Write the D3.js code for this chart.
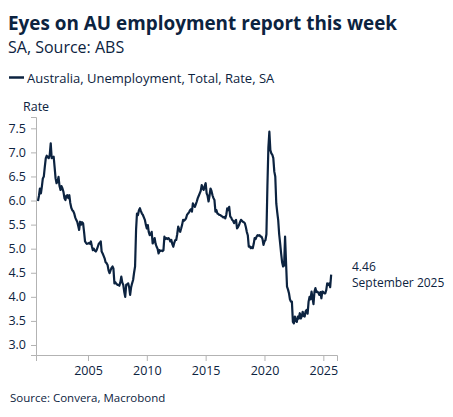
<!DOCTYPE html>
<html lang="en">
<head>
    <meta charset="UTF-8">
    <script src="https://d3js.org/d3.v7.min.js"></script>
    <style>
        body { margin: 0; background: #fff; font-family: "Segoe UI", "Open Sans", sans-serif; }
        .axis path, .axis line { stroke: #b3b3b3; }
        .axis text { fill: #0c2340; font-size: 12.5px; font-family: "Segoe UI", "Open Sans", sans-serif; }
    </style>
</head>
<body>
    <svg id="chart" width="453" height="417"></svg>
    <script>
        // monthly, seasonally adjusted, starting October 2000
        const startMonth = "2000-10";
        const rate2000 = [5.99, 6.10, 6.25];
        const rate2001 = [6.15, 6.30, 6.46, 6.50, 6.70, 6.88, 6.93, 6.90, 6.88, 6.95, 7.19, 6.88];
        const rate2002 = [6.90, 6.91, 6.70, 6.46, 6.36, 6.40, 6.49, 6.30, 6.22, 6.30, 6.25, 6.18];
        const rate2003 = [6.05, 6.01, 6.10, 6.11, 6.05, 6.11, 5.95, 5.85, 5.80, 5.78, 5.73, 5.65];
        const rate2004 = [5.60, 5.56, 5.48, 5.39, 5.56, 5.50, 5.55, 5.53, 5.35, 5.15, 5.12, 5.10];
        const rate2005 = [5.11, 5.12, 5.10, 5.15, 5.05, 4.97, 5.00, 4.96, 4.94, 4.98, 5.04, 5.10];
        const rate2006 = [5.12, 5.15, 4.94, 4.90, 4.85, 4.80, 4.72, 4.70, 4.66, 4.55, 4.49, 4.55];
        const rate2007 = [4.60, 4.63, 4.59, 4.28, 4.30, 4.27, 4.25, 4.25, 4.23, 4.30, 4.42, 4.30];
        const rate2008 = [4.25, 4.10, 4.00, 4.25, 4.26, 4.28, 4.20, 4.04, 4.20, 4.28, 4.35, 4.50];
        const rate2009 = [4.63, 5.39, 5.73, 5.70, 5.80, 5.84, 5.78, 5.73, 5.70, 5.65, 5.60, 5.50];
        const rate2010 = [5.42, 5.49, 5.35, 5.28, 5.30, 5.35, 5.11, 5.15, 5.22, 5.10, 5.04, 5.00];
        const rate2011 = [4.90, 4.97, 4.95, 4.96, 4.95, 4.97, 5.25, 5.20, 5.22, 5.20, 5.22, 5.20];
        const rate2012 = [5.15, 5.18, 5.10, 5.04, 5.12, 5.18, 5.18, 5.30, 5.46, 5.40, 5.35, 5.42];
        const rate2013 = [5.50, 5.60, 5.58, 5.60, 5.63, 5.70, 5.73, 5.75, 5.80, 5.82, 5.77, 5.94];
        const rate2014 = [5.90, 5.87, 5.92, 5.98, 6.05, 6.10, 6.15, 6.20, 6.32, 6.25, 6.22, 6.30];
        const rate2015 = [6.36, 6.15, 6.10, 5.98, 6.10, 6.25, 6.20, 6.11, 6.05, 6.01, 5.77, 5.80];
        const rate2016 = [5.73, 5.72, 5.70, 5.70, 5.68, 5.67, 5.65, 5.66, 5.63, 5.70, 5.84, 5.80];
        const rate2017 = [5.87, 5.67, 5.65, 5.60, 5.58, 5.53, 5.57, 5.60, 5.42, 5.45, 5.49, 5.55];
        const rate2018 = [5.60, 5.58, 5.56, 5.55, 5.53, 5.45, 5.35, 5.28, 5.04, 5.05, 5.01, 5.03];
        const rate2019 = [5.01, 5.10, 5.22, 5.20, 5.25, 5.28, 5.27, 5.28, 5.25, 5.25, 5.20, 5.08];
        const rate2020 = [5.15, 5.18, 5.30, 6.30, 7.10, 7.43, 7.05, 6.98, 6.95, 6.88, 6.60, 6.50];
        const rate2021 = [5.94, 5.75, 5.60, 5.30, 5.11, 4.90, 4.72, 4.63, 4.65, 5.25, 4.70, 4.21];
        const rate2022 = [4.15, 4.07, 3.95, 3.90, 3.90, 3.48, 3.45, 3.59, 3.50, 3.48, 3.59, 3.55];
        const rate2023 = [3.66, 3.55, 3.59, 3.69, 3.60, 3.59, 3.70, 3.73, 3.65, 3.90, 4.00, 3.95];
        const rate2024 = [4.11, 3.97, 3.85, 4.11, 4.18, 4.10, 4.11, 4.08, 4.04, 4.10, 3.97, 4.11];
        const rate2025 = [4.10, 4.07, 4.07, 4.14, 4.28, 4.25, 4.28, 4.20, 4.46];

        const yTicks = [3.0, 3.5, 4.0, 4.5, 5.0, 5.5, 6.0, 6.5, 7.0, 7.5];
        const xTickYears = [2005, 2010, 2015, 2020, 2025];
        const seriesName = "Australia, Unemployment, Total, Rate, SA";
        const lastLabel = ["4.46", "September 2025"];

        const allRates = [].concat(rate2000, rate2001, rate2002, rate2003, rate2004, rate2005,
            rate2006, rate2007, rate2008, rate2009, rate2010, rate2011, rate2012, rate2013,
            rate2014, rate2015, rate2016, rate2017, rate2018, rate2019, rate2020, rate2021,
            rate2022, rate2023, rate2024, rate2025);

        const start = d3.timeParse("%Y-%m")(startMonth);
        const data = allRates.map((v, i) => ({ date: d3.timeMonth.offset(start, i), value: v }));

        const navy = "#0c2340";
        const svg = d3.select("#chart");

        const x = d3.scaleTime()
            .domain([new Date(2000, 7, 1), new Date(2026, 2, 1)])
            .range([36, 337]);

        const y = d3.scaleLinear()
            .domain([2.792, 7.735])
            .range([355, 117]);

        // titles
        svg.append("text")
            .attr("x", 8).attr("y", 30)
            .attr("fill", navy)
            .style("font-size", "18.9px")
            .style("font-weight", "bold")
            .text("Eyes on AU employment report this week");

        svg.append("text")
            .attr("x", 8).attr("y", 53)
            .attr("fill", navy)
            .style("font-size", "16px")
            .text("SA, Source: ABS");

        // legend
        svg.append("line")
            .attr("x1", 9).attr("x2", 24)
            .attr("y1", 77.5).attr("y2", 77.5)
            .attr("stroke", navy)
            .attr("stroke-width", 2.5);

        svg.append("text")
            .attr("x", 27).attr("y", 83)
            .attr("fill", navy)
            .style("font-size", "13px")
            .text(seriesName);

        svg.append("text")
            .attr("x", 23).attr("y", 111)
            .attr("fill", navy)
            .style("font-size", "12.5px")
            .text("Rate");

        // axes
        svg.append("g")
            .attr("class", "axis")
            .attr("transform", "translate(0,355)")
            .call(d3.axisBottom(x)
                .tickValues(xTickYears.map(yr => new Date(yr, 0, 1)))
                .tickFormat(d3.timeFormat("%Y"))
                .tickSizeOuter(0)
                .tickSize(6)
                .tickPadding(5));

        svg.append("g")
            .attr("class", "axis")
            .attr("transform", "translate(36,0)")
            .call(d3.axisLeft(y)
                .tickValues(yTicks)
                .tickFormat(d3.format(".1f"))
                .tickSizeOuter(0)
                .tickSize(5)
                .tickPadding(5));

        // series
        const line = d3.line()
            .x(d => x(d.date))
            .y(d => y(d.value));

        svg.append("path")
            .datum(data)
            .attr("fill", "none")
            .attr("stroke", navy)
            .attr("stroke-width", 2.2)
            .attr("stroke-linejoin", "round")
            .attr("d", line);

        // last value label
        svg.append("text")
            .attr("x", 352).attr("y", 271)
            .attr("fill", navy)
            .style("font-size", "12px")
            .text(lastLabel[0]);

        svg.append("text")
            .attr("x", 352).attr("y", 287)
            .attr("fill", navy)
            .style("font-size", "12px")
            .text(lastLabel[1]);

        svg.append("text")
            .attr("x", 10).attr("y", 402)
            .attr("fill", navy)
            .style("font-size", "11.5px")
            .text("Source: Convera, Macrobond");
    </script>
</body>
</html>
